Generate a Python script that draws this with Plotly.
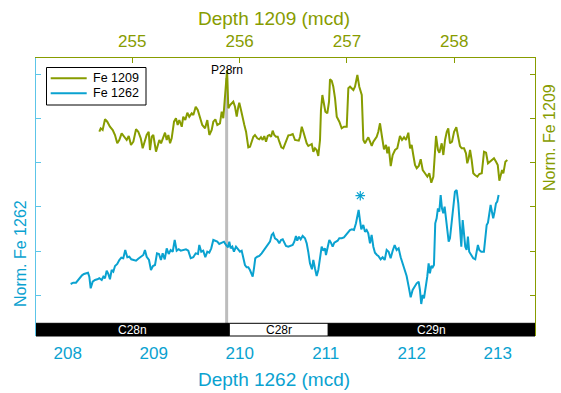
import plotly.graph_objects as go

# ---- Site 1209: depth (mcd) and normalised Fe ----
depth_1209 = [
    254.693, 254.706, 254.724, 254.746, 254.767, 254.792, 254.818, 254.839, 254.860, 254.879,
    254.901, 254.923, 254.948, 254.967, 254.988, 255.010, 255.035, 255.056, 255.079, 255.097,
    255.119, 255.134, 255.153, 255.165, 255.181, 255.196, 255.221, 255.237, 255.252, 255.268,
    255.283, 255.305, 255.321, 255.336, 255.352, 255.367, 255.389, 255.407, 255.423, 255.438,
    255.461, 255.475, 255.494, 255.513, 255.531, 255.554, 255.569, 255.591, 255.610, 255.631,
    255.652, 255.678, 255.699, 255.718, 255.740, 255.755, 255.774, 255.792, 255.817, 255.833,
    255.848, 255.883, 255.895, 255.911, 255.926, 255.941, 255.957, 255.973, 255.988, 255.997,
    256.013, 256.029, 256.044, 256.060, 256.081, 256.097, 256.113, 256.128, 256.143, 256.165,
    256.183, 256.199, 256.215, 256.230, 256.246, 256.262, 256.277, 256.293, 256.308, 256.323,
    256.339, 256.355, 256.370, 256.389, 256.407, 256.423, 256.439, 256.454, 256.476, 256.495,
    256.516, 256.532, 256.551, 256.563, 256.579, 256.594, 256.609, 256.625, 256.640, 256.656,
    256.672, 256.687, 256.702, 256.718, 256.733, 256.749, 256.758, 256.771, 256.786, 256.799,
    256.817, 256.833, 256.842, 256.858, 256.873, 256.889, 256.905, 256.929, 256.951, 256.973,
    256.998, 257.013, 257.029, 257.044, 257.060, 257.075, 257.097, 257.115, 257.138, 257.153,
    257.168, 257.184, 257.199, 257.215, 257.231, 257.246, 257.262, 257.277, 257.292, 257.308,
    257.324, 257.345, 257.364, 257.376, 257.389, 257.408, 257.426, 257.448, 257.469, 257.494,
    257.513, 257.532, 257.550, 257.572, 257.588, 257.603, 257.618, 257.634, 257.650, 257.669,
    257.687, 257.706, 257.727, 257.749, 257.767, 257.786, 257.805, 257.830, 257.848, 257.861,
    257.883, 257.898, 257.914, 257.930, 257.944, 257.960, 257.979, 257.998, 258.019, 258.038,
    258.053, 258.069, 258.091, 258.109, 258.121, 258.134, 258.147, 258.162, 258.177, 258.193,
    258.215, 258.233, 258.256, 258.277, 258.296, 258.314, 258.333, 258.352, 258.370, 258.389,
    258.405, 258.420, 258.433, 258.445, 258.457, 258.476, 258.494,
]
fe_1209 = [
    3.701, 3.778, 3.740, 3.982, 3.928, 3.814, 3.740, 3.627, 3.439, 3.514,
    3.665, 3.604, 3.514, 3.604, 3.400, 3.475, 3.756, 3.701, 3.552, 3.326,
    3.514, 3.627, 3.701, 3.287, 3.588, 3.627, 3.249, 3.362, 3.514, 3.439,
    3.552, 3.679, 3.514, 3.627, 3.439, 3.552, 3.928, 4.005, 3.853, 3.966,
    3.814, 4.041, 3.966, 4.131, 4.041, 4.118, 4.079, 4.267, 4.192, 4.005,
    3.853, 3.778, 3.966, 3.627, 3.740, 3.928, 3.982, 3.853, 3.891, 4.154,
    4.005, 5.097, 4.231, 4.305, 4.344, 4.380, 4.267, 4.041, 4.267, 4.357,
    4.192, 3.966, 3.853, 3.701, 3.348, 3.362, 3.475, 3.588, 3.627, 3.552,
    3.529, 3.575, 3.514, 3.604, 3.475, 3.604, 3.627, 3.588, 3.724, 3.627,
    3.588, 3.588, 3.475, 3.348, 3.326, 3.439, 3.552, 3.620, 3.627, 3.649,
    3.514, 3.514, 3.498, 3.588, 3.814, 3.701, 3.552, 3.439, 3.378, 3.400,
    3.423, 3.249, 3.326, 3.287, 3.152, 3.514, 4.192, 4.532, 4.344, 4.154,
    4.118, 4.380, 4.887, 4.855, 4.719, 4.457, 4.041, 3.928, 3.778, 3.814,
    3.814, 4.683, 4.719, 4.683, 4.645, 4.719, 4.984, 4.719, 4.532, 3.514,
    3.439, 3.514, 3.575, 3.475, 3.378, 3.475, 3.552, 3.588, 3.701, 3.891,
    3.627, 3.303, 3.400, 3.213, 3.362, 2.925, 3.174, 3.287, 3.326, 3.604,
    3.514, 3.575, 3.514, 3.679, 3.326, 3.400, 3.174, 2.948, 2.873, 2.925,
    3.077, 2.835, 2.760, 2.683, 2.760, 2.548, 2.683, 3.604, 3.287, 3.226,
    3.439, 3.174, 3.514, 3.701, 3.778, 3.439, 3.475, 3.701, 3.801, 3.588,
    3.378, 3.326, 3.326, 3.213, 2.986, 3.100, 3.287, 3.061, 2.760, 2.722,
    2.683, 2.744, 2.760, 3.249, 3.226, 2.986, 3.023, 3.061, 3.100, 3.023,
    2.948, 2.593, 2.722, 2.835, 2.760, 3.023, 3.061,
]

# ---- Site 1262: depth (mcd) and normalised Fe ----
depth_1262 = [
    208.034, 208.065, 208.096, 208.123, 208.143, 208.166, 208.189, 208.212, 208.236, 208.251,
    208.267, 208.290, 208.317, 208.344, 208.367, 208.395, 208.414, 208.433, 208.453, 208.472,
    208.491, 208.511, 208.530, 208.550, 208.576, 208.600, 208.623, 208.646, 208.669, 208.693,
    208.716, 208.739, 208.762, 208.794, 208.820, 208.848, 208.879, 208.898, 208.918, 208.945,
    208.968, 208.991, 209.015, 209.038, 209.061, 209.084, 209.104, 209.128, 209.151, 209.174,
    209.197, 209.221, 209.244, 209.267, 209.290, 209.314, 209.344, 209.375, 209.402, 209.430,
    209.460, 209.488, 209.515, 209.530, 209.553, 209.576, 209.600, 209.623, 209.646, 209.669,
    209.693, 209.716, 209.739, 209.762, 209.790, 209.817, 209.840, 209.864, 209.879, 209.895,
    209.914, 209.933, 209.957, 209.983, 210.003, 210.023, 210.042, 210.061, 210.081, 210.100,
    210.119, 210.139, 210.151, 210.166, 210.181, 210.204, 210.228, 210.255, 210.282, 210.314,
    210.332, 210.352, 210.372, 210.390, 210.410, 210.437, 210.460, 210.480, 210.500, 210.518,
    210.538, 210.565, 210.593, 210.616, 210.635, 210.654, 210.669, 210.689, 210.709, 210.732,
    210.759, 210.779, 210.797, 210.817, 210.840, 210.856, 210.875, 210.895, 210.914, 210.933,
    210.953, 210.972, 210.992, 211.003, 211.023, 211.042, 211.061, 211.081, 211.100, 211.119,
    211.139, 211.158, 211.186, 211.212, 211.236, 211.262, 211.282, 211.305, 211.329, 211.352,
    211.367, 211.383, 211.398, 211.414, 211.437, 211.457, 211.476, 211.495, 211.515, 211.534,
    211.554, 211.573, 211.596, 211.612, 211.639, 211.662, 211.686, 211.709, 211.732, 211.755,
    211.779, 211.802, 211.825, 211.848, 211.872, 211.895, 211.918, 211.941, 211.965, 211.988,
    212.011, 212.034, 212.058, 212.081, 212.096, 212.111, 212.128, 212.143, 212.166, 212.181,
    212.197, 212.212, 212.228, 212.244, 212.259, 212.274, 212.290, 212.305, 212.321, 212.337,
    212.352, 212.367, 212.383, 212.398, 212.414, 212.430, 212.445, 212.464, 212.483, 212.503,
    212.523, 212.542, 212.561, 212.577, 212.593, 212.608, 212.623, 212.639, 212.654, 212.669,
    212.693, 212.716, 212.739, 212.755, 212.770, 212.786, 212.809, 212.840, 212.855, 212.872,
    212.887, 212.902, 212.918, 212.933, 212.948, 212.964, 212.980, 212.995, 213.011,
]
fe_1262 = [
    0.256, 0.285, 0.285, 0.346, 0.407, 0.452, 0.482, 0.498, 0.511, 0.421,
    0.158, 0.308, 0.346, 0.362, 0.385, 0.346, 0.421, 0.385, 0.557, 0.482,
    0.362, 0.572, 0.534, 0.663, 0.708, 0.799, 0.851, 0.837, 1.025, 0.860,
    0.873, 0.814, 0.799, 0.783, 0.828, 0.860, 0.912, 1.025, 0.873, 0.799,
    0.572, 0.663, 0.686, 0.950, 0.934, 0.799, 0.950, 0.814, 1.063, 0.934,
    1.025, 0.986, 1.251, 1.009, 1.041, 1.009, 1.025, 1.041, 1.009, 0.837,
    0.860, 0.950, 0.934, 1.138, 0.986, 1.009, 0.860, 0.986, 0.964, 1.063,
    1.251, 1.235, 1.213, 1.161, 1.190, 1.213, 1.138, 1.086, 1.213, 1.063,
    1.100, 0.986, 1.100, 1.025, 0.986, 1.009, 0.814, 0.686, 0.633, 0.633,
    0.572, 0.498, 0.421, 0.611, 0.837, 0.873, 0.889, 0.950, 1.025, 1.100,
    1.176, 1.213, 1.364, 1.403, 1.290, 1.251, 1.176, 1.251, 1.267, 1.176,
    1.115, 1.100, 1.115, 1.138, 1.213, 1.342, 1.235, 1.326, 1.267, 1.342,
    1.290, 1.176, 0.986, 0.724, 0.588, 0.799, 0.611, 0.437, 0.572, 0.873,
    1.100, 1.009, 1.063, 0.912, 1.100, 1.251, 1.190, 1.100, 1.190, 1.213,
    1.235, 1.290, 1.290, 1.312, 1.364, 1.416, 1.477, 1.493, 1.477, 1.629,
    1.778, 1.930, 1.704, 1.493, 1.590, 1.439, 1.477, 1.403, 1.176, 1.364,
    1.100, 0.964, 0.912, 0.889, 0.814, 0.860, 0.799, 1.025, 0.986, 0.837,
    1.009, 1.138, 1.025, 1.063, 0.860, 0.724, 0.572, 0.437, 0.195, -0.045,
    0.120, 0.195, 0.271, 0.308, 0.120, -0.197, 0.007, -0.068, 0.195, 0.421,
    0.724, 0.498, 0.663, 0.633, 0.686, 1.629, 1.742, 1.968, 1.891, 2.269,
    1.968, 1.855, 2.005, 1.765, 1.552, 1.213, 1.290, 1.629, 2.043, 2.344,
    2.382, 2.081, 1.552, 1.100, 1.704, 1.290, 1.100, 1.025, 1.326, 0.986,
    0.912, 0.837, 0.814, 1.025, 1.138, 1.025, 0.986, 0.986, 1.290, 1.590,
    1.643, 1.855, 2.043, 1.891, 1.742, 1.891, 2.081, 2.118, 2.269,
]

# Highlighted 1262 sample (asterisk)
star_depth = [211.402]
star_fe = [2.253]

# Tie point P28rn (1262 depth)
tie_label = "P28rn"
tie_depth = 209.848
tie_fe_top = 4.916

# Magnetochrons along the 1262 depth scale
chron_names = ["C28n", "C28r", "C29n"]
chron_top = [207.631, 209.879, 211.030]
chron_base = [209.879, 211.030, 213.434]
chron_normal = [True, False, True]

# Axis extents and tick positions
x1262_range = [207.631, 213.434]
x1209_range = [254.103, 258.752]
x1262_ticks = [208, 209, 210, 211, 212, 213]
x1209_ticks = [255, 256, 257, 258]
fe_range = [-0.921, 5.369]
fe_ticks = [0, 1, 2, 3, 4, 5]

OLIVE = "#879c00"
BLUE = "#0aa2d0"
BLUE_AXIS = "#5cc5e8"
FONT = "Liberation Sans, Arial, Helvetica, sans-serif"

# plot-area geometry in pixels (used for paper-coordinate decorations)
PX_L, PX_R, PX_T, PX_B = 36, 535, 58, 336


def paper_x(px):
    return (px - PX_L) / (PX_R - PX_L)


def paper_y(py):
    return (PX_B - py) / (PX_B - PX_T)


fig = go.Figure()

series = [
    ("Fe 1209", depth_1209, fe_1209, "x2", "y2", OLIVE),
    ("Fe 1262", depth_1262, fe_1262, "x", "y", BLUE),
]
for name, xs, ys, xa, ya, col in series:
    fig.add_trace(go.Scatter(
        x=xs, y=ys, xaxis=xa, yaxis=ya, mode="lines", name=name,
        showlegend=False, line=dict(color=col, width=2),
    ))

fig.add_trace(go.Scatter(
    x=star_depth, y=star_fe, xaxis="x", yaxis="y", mode="markers",
    showlegend=False,
    marker=dict(symbol="asterisk-open", size=8, color=BLUE,
                line=dict(color=BLUE, width=1.2)),
))

shapes = []
annotations = []

# grey tie line
shapes.append(dict(
    type="line", xref="x", yref="y", x0=tie_depth, x1=tie_depth,
    y0=fe_range[0] + (fe_range[1] - fe_range[0]) * paper_y(323.3), y1=tie_fe_top,
    line=dict(color="#bdbdbd", width=3), layer="below",
))
annotations.append(dict(
    x=tie_depth, y=tie_fe_top, xref="x", yref="y", text=tie_label,
    showarrow=False, yanchor="bottom", xanchor="center", yshift=-1,
    font=dict(family=FONT, size=12, color="black"),
))

# magnetostratigraphy bar at the base of the axes
bar_h = paper_y(323.3)
for name, top, base, normal in zip(chron_names, chron_top, chron_base, chron_normal):
    shapes.append(dict(
        type="rect", xref="x", yref="paper", x0=top, x1=base, y0=0, y1=bar_h,
        fillcolor="black" if normal else "white",
        line=dict(color="black", width=1), layer="above",
    ))
    annotations.append(dict(
        x=(top + base) / 2, y=bar_h / 2, xref="x", yref="paper", text=name,
        showarrow=False, xanchor="center", yanchor="middle",
        font=dict(family=FONT, size=12, color="white" if normal else "black"),
    ))

# legend box
shapes.append(dict(
    type="rect", xref="paper", yref="paper",
    x0=paper_x(46.5), x1=paper_x(146), y0=paper_y(105), y1=paper_y(67.5),
    fillcolor="white", line=dict(color="black", width=1), layer="above",
))
for i, (name, _, _, _, _, col) in enumerate(series):
    ly = 78.3 + 15 * i
    shapes.append(dict(
        type="line", xref="paper", yref="paper",
        x0=paper_x(50.7), x1=paper_x(86.7), y0=paper_y(ly), y1=paper_y(ly),
        line=dict(color=col, width=2), layer="above",
    ))
    annotations.append(dict(
        x=paper_x(90.5), y=paper_y(ly), xref="paper", yref="paper", text=name,
        showarrow=False, xanchor="left", yanchor="middle",
        font=dict(family=FONT, size=12.5, color="black"),
    ))

# depth axis titles
annotations.append(dict(
    x=paper_x(274), y=paper_y(19), xref="paper", yref="paper",
    text="Depth 1209 (mcd)", showarrow=False, xanchor="center", yanchor="middle",
    font=dict(family=FONT, size=19, color=OLIVE),
))
annotations.append(dict(
    x=paper_x(273.5), y=paper_y(379), xref="paper", yref="paper",
    text="Depth 1262 (mcd)", showarrow=False, xanchor="center", yanchor="middle",
    font=dict(family=FONT, size=19, color=BLUE),
))

# rotated Fe axis titles
annotations.append(dict(
    x=paper_x(20), y=paper_y(254), xref="paper", yref="paper",
    text="Norm. Fe 1262", textangle=-90, showarrow=False,
    xanchor="center", yanchor="middle",
    font=dict(family=FONT, size=16, color=BLUE),
))
annotations.append(dict(
    x=paper_x(549), y=paper_y(138), xref="paper", yref="paper",
    text="Norm. Fe 1209", textangle=-90, showarrow=False,
    xanchor="center", yanchor="middle",
    font=dict(family=FONT, size=16, color=OLIVE),
))

fig.update_layout(
    width=561, height=393,
    margin=dict(l=PX_L, r=561 - PX_R, t=PX_T, b=393 - PX_B),
    paper_bgcolor="white", plot_bgcolor="white",
    font=dict(family=FONT),
    showlegend=False,
    xaxis=dict(
        range=x1262_range, tickvals=x1262_ticks, ticks="", showline=False,
        showgrid=False, zeroline=False, ticklabelstandoff=5, automargin=False,
        tickfont=dict(family=FONT, size=17, color=BLUE),
    ),
    xaxis2=dict(
        range=x1209_range, tickvals=x1209_ticks, overlaying="x", side="top",
        ticks="inside", ticklen=5, tickcolor=OLIVE, showline=True, linecolor=OLIVE,
        linewidth=1, showgrid=False, zeroline=False, ticklabelstandoff=3, automargin=False,
        tickfont=dict(family=FONT, size=17, color=OLIVE),
    ),
    yaxis=dict(
        range=fe_range, tickvals=fe_ticks, showticklabels=False, automargin=False,
        ticks="inside", ticklen=5, tickcolor=BLUE_AXIS, showline=True,
        linecolor=BLUE_AXIS, linewidth=1, showgrid=False, zeroline=False,
    ),
    yaxis2=dict(
        range=fe_range, tickvals=fe_ticks, showticklabels=False, overlaying="y",
        side="right", ticks="inside", ticklen=5, tickcolor=OLIVE, showline=True,
        automargin=False,
        linecolor=OLIVE, linewidth=1, showgrid=False, zeroline=False,
    ),
    shapes=shapes,
    annotations=annotations,
)

fig.write_html("out.html")
